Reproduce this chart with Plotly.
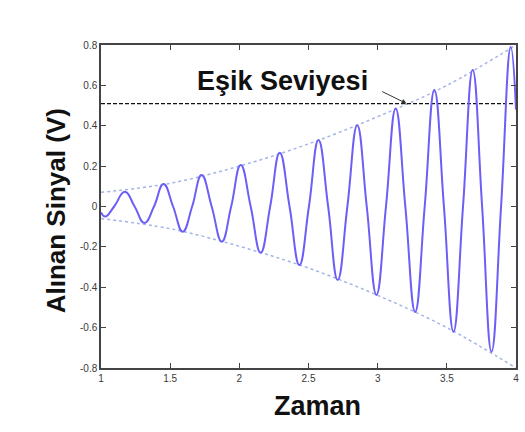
import plotly.graph_objects as go

# Received signal: extremes and zero crossings of the growing oscillation
t_signal = [1.00, 1.03, 1.095, 1.172, 1.243, 1.314, 1.383, 1.452, 1.521, 1.591,
            1.659, 1.727, 1.800, 1.873, 1.941, 2.010, 2.082, 2.154, 2.223, 2.292,
            2.363, 2.434, 2.503, 2.572, 2.642, 2.711, 2.781, 2.852, 2.921, 2.991,
            3.060, 3.130, 3.200, 3.271, 3.340, 3.410, 3.479, 3.548, 3.617, 3.687,
            3.755, 3.823, 3.892, 3.962, 4.000]
v_signal = [-0.030, -0.050, 0.0, 0.073, 0.0, -0.082, 0.0, 0.111, 0.0, -0.125,
            0.0, 0.156, 0.0, -0.174, 0.0, 0.205, 0.0, -0.229, 0.0, 0.266,
            0.0, -0.290, 0.0, 0.329, 0.0, -0.364, 0.0, 0.403, 0.0, -0.438,
            0.0, 0.486, 0.0, -0.522, 0.0, 0.577, 0.0, -0.620, 0.0, 0.676,
            0.0, -0.719, 0.0, 0.790, 0.480]

# Envelope of the signal
t_env = [1.0, 1.5, 2.0, 2.5, 3.0, 3.5, 4.0]
env_upper = [0.070, 0.115, 0.200, 0.310, 0.445, 0.600, 0.800]
env_lower = [-0.060, -0.110, -0.197, -0.305, -0.440, -0.600, -0.800]

# Threshold level
threshold = 0.51
t_threshold = [1.0, 4.0]

x_ticks = [1, 1.5, 2, 2.5, 3, 3.5, 4]
x_labels = ["1", "1.5", "2", "2.5", "3", "3.5", "4"]
y_ticks = [-0.8, -0.6, -0.4, -0.2, 0, 0.2, 0.4, 0.6, 0.8]
y_labels = ["-0.8", "-0.6", "-0.4", "-0.2", "0", "0.2", "0.4", "0.6", "0.8"]

env_color = "#a3b5e6"
sig_color = "#6d5ef7"
axis_color = "#444444"
font_family = "Liberation Sans, Arial, sans-serif"

fig = go.Figure()

fig.add_trace(go.Scatter(x=t_env, y=env_upper, mode="lines",
                         line=dict(color=env_color, width=1.5, dash="dot", shape="spline"),
                         hoverinfo="skip"))
fig.add_trace(go.Scatter(x=t_env, y=env_lower, mode="lines",
                         line=dict(color=env_color, width=1.5, dash="dot", shape="spline"),
                         hoverinfo="skip"))
fig.add_trace(go.Scatter(x=t_threshold, y=[threshold] * len(t_threshold), mode="lines",
                         line=dict(color="#111111", width=1.2, dash="4px,2px"),
                         hoverinfo="skip"))
fig.add_trace(go.Scatter(x=t_signal, y=v_signal, mode="lines",
                         line=dict(color=sig_color, width=2, shape="spline", smoothing=1.3),
                         hoverinfo="skip"))

# Label with arrow pointing at where the envelope meets the threshold
fig.add_annotation(x=3.209, y=threshold, ax=3.022, ay=0.573,
                   xref="x", yref="y", axref="x", ayref="y",
                   text="", showarrow=True, arrowhead=2, arrowsize=1,
                   arrowwidth=1, arrowcolor="#333333")
fig.add_annotation(x=2.31, y=0.622, xref="x", yref="y", text="<b>Eşik Seviyesi</b>",
                   showarrow=False, xanchor="center", yanchor="middle",
                   font=dict(family=font_family, size=27, color="#111111"))

# Axis titles
fig.add_annotation(x=-0.1077, y=0.486, xref="paper", yref="paper",
                   text="<b>Alınan Sinyal (V)</b>", textangle=-90, showarrow=False,
                   xanchor="center", yanchor="middle",
                   font=dict(family=font_family, size=26, color="#111111"))
fig.add_annotation(x=0.5215, y=-0.1176, xref="paper", yref="paper",
                   text="<b>Zaman</b>", showarrow=False,
                   xanchor="center", yanchor="middle",
                   font=dict(family=font_family, size=27, color="#111111"))

axis_common = dict(showgrid=False, zeroline=False, showline=True, linecolor=axis_color,
                   linewidth=1.5, mirror="ticks", ticks="inside", ticklen=5,
                   tickwidth=1.2, tickcolor=axis_color,
                   tickfont=dict(family=font_family, size=10, color="#3a3a3a"))

fig.update_xaxes(range=[1, 4], tickvals=x_ticks, ticktext=x_labels, **axis_common)
fig.update_yaxes(range=[-0.8, 0.8], tickvals=y_ticks, ticktext=y_labels, **axis_common)

fig.update_layout(width=525, height=432, margin=dict(l=101, r=6, t=45, b=64),
                  paper_bgcolor="white", plot_bgcolor="white", showlegend=False)

fig.write_html("out.html")
